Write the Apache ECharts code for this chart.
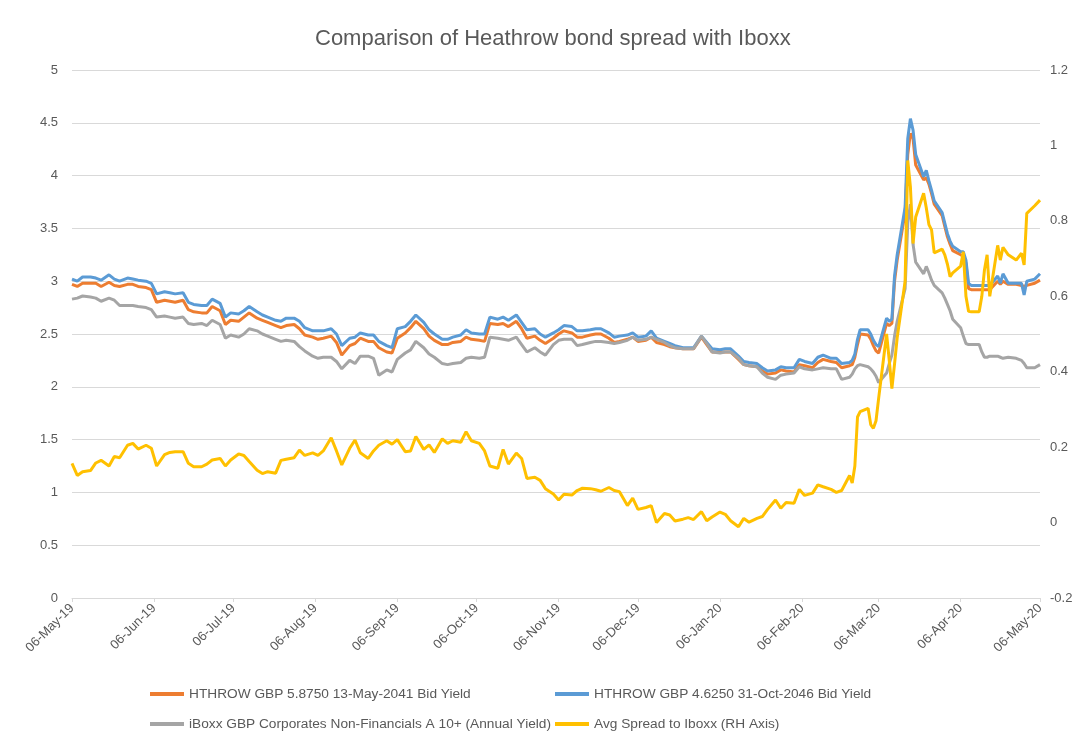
<!DOCTYPE html>
<html>
<head>
<meta charset="utf-8">
<script src="https://cdn.jsdelivr.net/npm/echarts@6/dist/echarts.min.js"></script>
<style>
html,body{margin:0;padding:0;background:#fff;}
#chart{width:1086px;height:742px;}
</style>
</head>
<body>
<div id="chart"></div>
<script>
// ---- data ----
const dates = [
  '2019-05-06','2019-05-08','2019-05-10','2019-05-13','2019-05-15','2019-05-17','2019-05-20','2019-05-22','2019-05-24','2019-05-27','2019-05-29','2019-05-31',
  '2019-06-03','2019-06-05','2019-06-07','2019-06-10','2019-06-12','2019-06-14','2019-06-17','2019-06-19','2019-06-21','2019-06-24','2019-06-26','2019-06-28',
  '2019-07-01','2019-07-03','2019-07-05','2019-07-08','2019-07-10','2019-07-12','2019-07-15','2019-07-17','2019-07-19','2019-07-22','2019-07-24','2019-07-26','2019-07-29','2019-07-31',
  '2019-08-02','2019-08-05','2019-08-07','2019-08-09','2019-08-12','2019-08-14','2019-08-16','2019-08-19','2019-08-21','2019-08-23','2019-08-26','2019-08-28','2019-08-30',
  '2019-09-02','2019-09-04','2019-09-06','2019-09-09','2019-09-11','2019-09-13','2019-09-16','2019-09-18','2019-09-20','2019-09-23','2019-09-25','2019-09-27','2019-09-30',
  '2019-10-02','2019-10-04','2019-10-07','2019-10-09','2019-10-11','2019-10-14','2019-10-16','2019-10-18','2019-10-21','2019-10-23','2019-10-25','2019-10-28','2019-10-30',
  '2019-11-01','2019-11-04','2019-11-06','2019-11-08','2019-11-11','2019-11-13','2019-11-15','2019-11-18','2019-11-20','2019-11-22','2019-11-25','2019-11-27','2019-11-29',
  '2019-12-02','2019-12-04','2019-12-06','2019-12-09','2019-12-11','2019-12-13','2019-12-16','2019-12-18','2019-12-20','2019-12-23','2019-12-25','2019-12-27','2019-12-30',
  '2020-01-01','2020-01-03','2020-01-06','2020-01-08','2020-01-10','2020-01-13','2020-01-15','2020-01-17','2020-01-20','2020-01-22','2020-01-24','2020-01-27','2020-01-29','2020-01-31',
  '2020-02-03','2020-02-05','2020-02-07','2020-02-10','2020-02-12','2020-02-14','2020-02-17','2020-02-19','2020-02-21','2020-02-24','2020-02-25','2020-02-26','2020-02-27','2020-02-28',
  '2020-03-02','2020-03-03','2020-03-04','2020-03-05','2020-03-06','2020-03-09','2020-03-10','2020-03-11','2020-03-12','2020-03-13','2020-03-16','2020-03-17','2020-03-18','2020-03-19','2020-03-20','2020-03-23','2020-03-24','2020-03-25','2020-03-26','2020-03-27','2020-03-30','2020-03-31',
  '2020-04-01','2020-04-02','2020-04-03','2020-04-06','2020-04-07','2020-04-08','2020-04-09','2020-04-10','2020-04-13','2020-04-14','2020-04-15','2020-04-16','2020-04-17','2020-04-20','2020-04-21','2020-04-22','2020-04-24','2020-04-27','2020-04-29','2020-04-30',
  '2020-05-01','2020-05-04','2020-05-06'
];

const hthrow2041 = [
  2.97,2.95,2.98,2.98,2.98,2.95,2.99,2.96,2.95,2.97,2.97,2.95,
  2.94,2.92,2.80,2.82,2.81,2.80,2.82,2.73,2.71,2.70,2.70,2.76,
  2.72,2.59,2.63,2.62,2.66,2.70,2.65,2.63,2.61,2.58,2.56,2.58,2.59,2.55,
  2.49,2.47,2.45,2.46,2.48,2.42,2.30,2.39,2.41,2.46,2.43,2.43,2.37,
  2.33,2.32,2.46,2.51,2.56,2.62,2.55,2.48,2.44,2.40,2.40,2.42,2.43,
  2.47,2.45,2.44,2.43,2.60,2.59,2.60,2.57,2.62,2.55,2.46,2.48,2.44,
  2.41,2.46,2.50,2.53,2.51,2.47,2.47,2.49,2.50,2.50,2.46,2.42,2.43,
  2.45,2.47,2.43,2.44,2.47,2.42,2.40,2.38,2.37,2.36,2.36,2.36,2.47,
  2.40,2.33,2.33,2.33,2.33,2.26,2.21,2.20,2.19,2.15,2.12,2.13,2.16,2.15,
  2.14,2.21,2.20,2.18,2.23,2.26,2.24,2.23,2.18,2.20,2.21,2.28,2.40,2.50,
  2.49,2.45,2.39,2.34,2.32,2.60,2.58,2.60,3.00,3.20,3.65,4.20,4.40,4.35,4.10,3.96,3.98,3.92,3.83,3.73,3.62,3.52,
  3.42,3.35,3.29,3.25,3.24,3.17,2.93,2.92,2.92,2.92,2.92,2.92,2.92,3.00,2.97,3.00,2.97,2.97,2.96,2.95,
  2.96,2.98,3.01
];

const hthrow2046 = [
  3.02,3.00,3.04,3.04,3.03,3.01,3.06,3.02,3.00,3.03,3.02,3.01,
  3.00,2.98,2.88,2.90,2.89,2.88,2.89,2.80,2.78,2.77,2.77,2.83,
  2.79,2.66,2.70,2.69,2.72,2.76,2.71,2.68,2.66,2.63,2.62,2.65,2.65,2.62,
  2.56,2.53,2.53,2.53,2.55,2.50,2.39,2.46,2.47,2.51,2.49,2.49,2.43,
  2.39,2.37,2.55,2.57,2.62,2.68,2.61,2.54,2.50,2.45,2.45,2.47,2.49,
  2.54,2.51,2.50,2.50,2.66,2.64,2.66,2.63,2.68,2.61,2.54,2.55,2.50,
  2.47,2.51,2.54,2.58,2.57,2.53,2.53,2.54,2.55,2.55,2.51,2.47,2.48,
  2.49,2.51,2.47,2.48,2.53,2.46,2.43,2.41,2.39,2.37,2.37,2.37,2.48,
  2.42,2.36,2.35,2.36,2.36,2.29,2.24,2.23,2.22,2.18,2.15,2.16,2.19,2.18,
  2.18,2.26,2.24,2.22,2.28,2.30,2.27,2.27,2.22,2.23,2.25,2.31,2.45,2.54,
  2.54,2.50,2.44,2.40,2.38,2.65,2.62,2.64,3.05,3.25,3.70,4.35,4.54,4.43,4.20,3.99,4.05,3.95,3.86,3.76,3.65,3.55,
  3.45,3.38,3.33,3.28,3.28,3.20,2.98,2.96,2.96,2.96,2.96,2.96,2.96,3.05,2.98,3.07,2.98,2.98,2.98,2.87,
  3.00,3.02,3.07
];

const iboxxYield = [
  2.83,2.84,2.86,2.85,2.84,2.81,2.84,2.82,2.77,2.77,2.77,2.76,
  2.75,2.73,2.66,2.67,2.66,2.65,2.66,2.60,2.59,2.60,2.58,2.63,
  2.59,2.46,2.49,2.47,2.50,2.55,2.53,2.50,2.48,2.45,2.43,2.44,2.43,2.38,
  2.34,2.29,2.27,2.28,2.28,2.24,2.17,2.25,2.22,2.29,2.29,2.27,2.11,
  2.16,2.14,2.26,2.32,2.35,2.43,2.37,2.31,2.28,2.22,2.21,2.22,2.23,
  2.27,2.28,2.27,2.28,2.47,2.46,2.45,2.44,2.47,2.40,2.33,2.37,2.33,
  2.30,2.40,2.44,2.45,2.45,2.39,2.40,2.42,2.43,2.43,2.42,2.41,2.42,
  2.44,2.47,2.44,2.45,2.47,2.45,2.42,2.39,2.37,2.36,2.36,2.36,2.48,
  2.41,2.33,2.32,2.33,2.33,2.27,2.21,2.20,2.19,2.13,2.09,2.07,2.11,2.12,
  2.13,2.19,2.17,2.16,2.17,2.18,2.17,2.17,2.07,2.09,2.12,2.17,2.20,2.21,
  2.19,2.17,2.14,2.10,2.04,2.13,2.22,2.30,2.48,2.62,2.93,3.55,3.73,3.35,3.18,3.07,3.14,3.08,3.01,2.96,2.89,2.84,
  2.78,2.72,2.64,2.56,2.48,2.41,2.40,2.40,2.40,2.33,2.28,2.28,2.29,2.29,2.28,2.27,2.28,2.27,2.25,2.22,
  2.18,2.18,2.21
];

const avgSpread = [
  0.157,0.125,0.135,0.138,0.158,0.165,0.150,0.175,0.172,0.205,0.210,0.195,
  0.205,0.197,0.150,0.180,0.186,0.188,0.188,0.157,0.148,0.148,0.155,0.166,
  0.170,0.150,0.166,0.182,0.178,0.162,0.139,0.130,0.135,0.131,0.165,0.168,0.172,0.192,
  0.178,0.185,0.178,0.190,0.225,0.190,0.153,0.197,0.219,0.185,0.170,0.190,0.205,
  0.217,0.208,0.220,0.188,0.190,0.228,0.194,0.206,0.186,0.222,0.210,0.217,0.213,
  0.241,0.217,0.210,0.190,0.150,0.144,0.194,0.155,0.184,0.170,0.117,0.120,0.112,
  0.090,0.076,0.060,0.075,0.073,0.085,0.091,0.090,0.087,0.083,0.093,0.085,0.082,
  0.045,0.065,0.035,0.040,0.045,0.000,0.024,0.020,0.004,0.009,0.013,0.008,0.029,
  0.005,0.015,0.028,0.022,0.005,-0.011,0.011,0.001,0.011,0.016,0.035,0.060,0.038,0.053,
  0.051,0.088,0.072,0.078,0.100,0.095,0.088,0.080,0.085,0.125,0.105,0.150,0.280,0.294,
  0.303,0.260,0.250,0.270,0.330,0.500,0.430,0.355,0.420,0.490,0.640,0.960,0.890,0.740,0.810,0.873,0.835,0.790,0.776,0.715,0.725,0.710,
  0.685,0.652,0.662,0.680,0.718,0.600,0.560,0.559,0.559,0.600,0.670,0.710,0.600,0.735,0.696,0.730,0.710,0.696,0.714,0.683,
  0.820,0.840,0.855
];

const xTickLabels = ['06-May-19','06-Jun-19','06-Jul-19','06-Aug-19','06-Sep-19','06-Oct-19','06-Nov-19',
  '06-Dec-19','06-Jan-20','06-Feb-20','06-Mar-20','06-Apr-20','06-May-20'];
const leftTicks = { min: 0, max: 5, interval: 0.5 };
const rightTicks = { min: -0.2, max: 1.2, interval: 0.2 };
const seriesNames = [
  'HTHROW GBP 5.8750 13-May-2041 Bid Yield',
  'HTHROW GBP 4.6250 31-Oct-2046 Bid Yield',
  'iBoxx GBP Corporates Non-Financials A 10+ (Annual Yield)',
  'Avg Spread to Iboxx (RH Axis)'
];
const titleText = 'Comparison of Heathrow bond spread with Iboxx';

// ---- helpers ----
const MONTHS = ['Jan','Feb','Mar','Apr','May','Jun','Jul','Aug','Sep','Oct','Nov','Dec'];
function parseTickLabel(s) {
  const [dd, mon, yy] = s.split('-');
  return Date.UTC(2000 + (+yy), MONTHS.indexOf(mon), +dd);
}
const origin = parseTickLabel(xTickLabels[0]);
const DAY = 86400000;
function dayIndexIso(s) {
  const [y, m, d] = s.split('-').map(Number);
  return Math.round((Date.UTC(y, m - 1, d) - origin) / DAY);
}
const tickDays = xTickLabels.map(l => Math.round((parseTickLabel(l) - origin) / DAY));
const labelByDay = {};
tickDays.forEach((d, i) => { labelByDay[d] = xTickLabels[i]; });
const xs = dates.map(dayIndexIso);
const pairs = arr => arr.map((v, i) => [xs[i], v]);

const TXT = '#595959';
const FONT = 'Liberation Sans';
const colors = ['#ED7D31', '#5B9BD5', '#A5A5A5', '#FFC000'];

const chart = echarts.init(document.getElementById('chart'), null, { renderer: 'canvas' });

function legendAt(name, left, top) {
  return {
    data: [name], left: left, top: top, orient: 'horizontal',
    icon: 'rect', itemWidth: 34, itemHeight: 4, itemGap: 0,
    textStyle: { color: TXT, fontSize: 13.7, fontFamily: FONT },
    selectedMode: false
  };
}

chart.setOption({
  animation: false,
  backgroundColor: '#fff',
  color: colors,
  textStyle: { fontFamily: FONT },
  title: {
    text: titleText, left: 310, top: 23,
    textStyle: { color: TXT, fontSize: 22, fontWeight: 'normal', fontFamily: FONT }
  },
  legend: [
    legendAt(seriesNames[0], 145, 682),
    legendAt(seriesNames[1], 550, 682),
    legendAt(seriesNames[2], 145, 712),
    legendAt(seriesNames[3], 550, 712)
  ],
  grid: { left: 72, right: 46, top: 70, bottom: 144 },
  xAxis: {
    type: 'value', min: tickDays[0], max: tickDays[tickDays.length - 1],
    axisLine: { show: true, lineStyle: { color: '#D9D9D9', width: 1 } },
    axisTick: { show: true, customValues: tickDays, length: 4, lineStyle: { color: '#D9D9D9' } },
    axisLabel: {
      customValues: tickDays, rotate: 45, margin: 8,
      color: TXT, fontSize: 13, fontFamily: FONT,
      formatter: v => labelByDay[Math.round(v)] || ''
    },
    splitLine: { show: false }
  },
  yAxis: [
    {
      type: 'value', min: leftTicks.min, max: leftTicks.max, interval: leftTicks.interval,
      axisLine: { show: false }, axisTick: { show: false },
      axisLabel: { color: TXT, fontSize: 13, fontFamily: FONT, margin: 14 },
      splitLine: { show: true, lineStyle: { color: '#D9D9D9', width: 1 } }
    },
    {
      type: 'value', min: rightTicks.min, max: rightTicks.max, interval: rightTicks.interval,
      axisLine: { show: false }, axisTick: { show: false },
      axisLabel: { color: TXT, fontSize: 13, fontFamily: FONT, margin: 10 },
      splitLine: { show: false }
    }
  ],
  series: [
    { name: seriesNames[0], type: 'line', data: pairs(hthrow2041), yAxisIndex: 0, showSymbol: false, lineStyle: { width: 3, color: colors[0] }, itemStyle: { color: colors[0] } },
    { name: seriesNames[1], type: 'line', data: pairs(hthrow2046), yAxisIndex: 0, showSymbol: false, lineStyle: { width: 3, color: colors[1] }, itemStyle: { color: colors[1] } },
    { name: seriesNames[2], type: 'line', data: pairs(iboxxYield), yAxisIndex: 0, showSymbol: false, lineStyle: { width: 3, color: colors[2] }, itemStyle: { color: colors[2] } },
    { name: seriesNames[3], type: 'line', data: pairs(avgSpread), yAxisIndex: 1, showSymbol: false, lineStyle: { width: 3, color: colors[3] }, itemStyle: { color: colors[3] } }
  ]
});
</script>
</body>
</html>
